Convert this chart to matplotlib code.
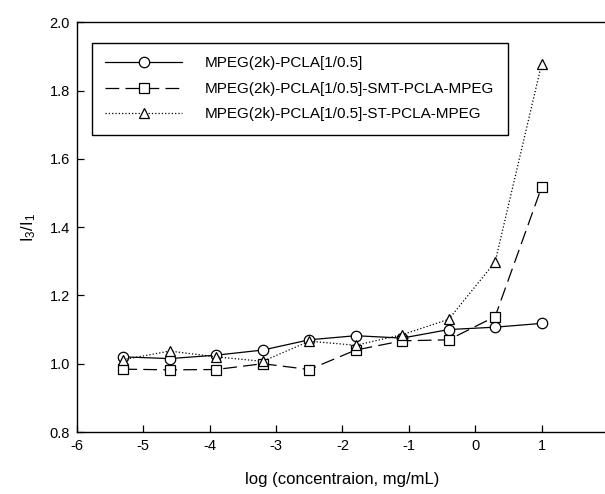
import matplotlib
matplotlib.use('Agg')
import matplotlib.pyplot as plt

plt.rcParams['font.family'] = ['Liberation Sans', 'DejaVu Sans']
plt.rcParams['mathtext.fontset'] = 'custom'
plt.rcParams['mathtext.rm'] = 'Liberation Sans'
plt.rcParams['mathtext.it'] = 'Liberation Sans'
plt.rcParams['axes.unicode_minus'] = False

# log concentration values
logc = [-5.3, -4.6, -3.9, -3.2, -2.5, -1.8, -1.1, -0.4, 0.3, 1.0]

# I3/I1 ratios
pcla = [1.02, 1.015, 1.025, 1.04, 1.07, 1.082, 1.075, 1.10, 1.107, 1.118]
smt = [0.984, 0.982, 0.983, 1.00, 0.983, 1.04, 1.067, 1.07, 1.138, 1.517]
st = [1.012, 1.037, 1.02, 1.007, 1.066, 1.054, 1.085, 1.13, 1.298, 1.878]

names = ['MPEG(2k)-PCLA[1/0.5]',
         'MPEG(2k)-PCLA[1/0.5]-SMT-PCLA-MPEG',
         'MPEG(2k)-PCLA[1/0.5]-ST-PCLA-MPEG']

fig = plt.figure(figsize=(6.05, 4.94), dpi=100)
ax = fig.add_axes([0.127, 0.1255, 0.878, 0.8295])

mk = dict(markersize=7.5, markerfacecolor='white', markeredgecolor='black',
          markeredgewidth=0.9, color='black', linewidth=0.9)
ax.plot(logc, pcla, '-', marker='o', label=names[0], **mk)
ax.plot(logc, smt, marker='s', dashes=(11, 5), label=names[1], **mk)
ax.plot(logc, st, ':', marker='^', label=names[2], **mk)

ax.set_xlim(-6, 2)
ax.set_ylim(0.8, 2.0)
ax.set_xticks(range(-6, 3))
ax.set_yticks([0.8, 1.0, 1.2, 1.4, 1.6, 1.8, 2.0])
ax.set_yticklabels(['0.8', '1.0', '1.2', '1.4', '1.6', '1.8', '2.0'])
ax.tick_params(direction='in', length=5, width=0.9, labelsize=10.5, pad=5)
for s in ax.spines.values():
    s.set_linewidth(1.0)

ax.set_xlabel('log (concentraion, mg/mL)', fontsize=12, labelpad=14)
ax.set_ylabel('I$_3$/I$_1$', fontsize=12, labelpad=8)

leg = ax.legend(loc='upper left', bbox_to_anchor=(0.028, 0.95), fontsize=11,
                handlelength=5.0, handletextpad=1.5, borderpad=0.9,
                labelspacing=0.75, fancybox=False, framealpha=1,
                edgecolor='black', borderaxespad=0)
leg.get_frame().set_linewidth(1.0)

fig.savefig('out.png', dpi=100)
